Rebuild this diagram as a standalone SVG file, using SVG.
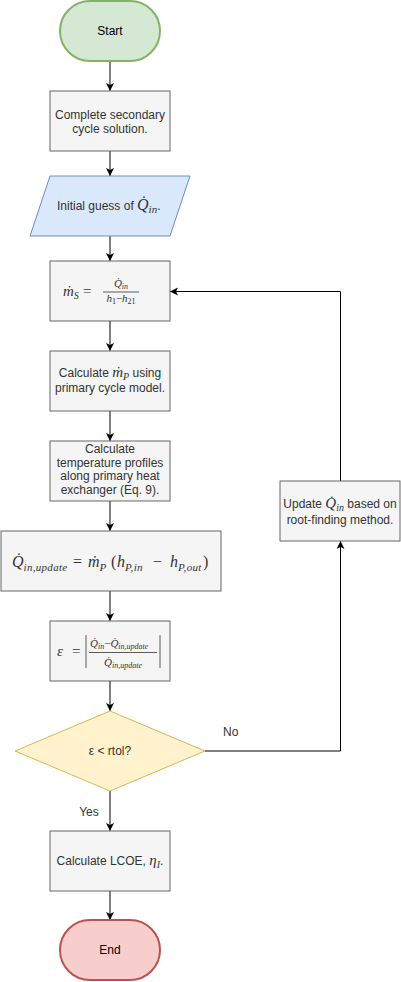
<svg xmlns="http://www.w3.org/2000/svg" width="401" height="982" viewBox="0 0 401 982">
<defs>
<marker id="arr" markerWidth="10" markerHeight="10" refX="8" refY="4" orient="auto" markerUnits="userSpaceOnUse">
<path d="M0,0 L8,4 L0,8 L2,4 Z" fill="#000"/>
</marker>
<style>
.box{fill:#f5f5f5;stroke:#666666;stroke-width:1}
.t{font-family:"Liberation Sans",Arial,sans-serif;font-size:12px;fill:#333333}
.tc{text-anchor:middle}
.m{font-family:"Liberation Serif","Times New Roman",serif;font-style:italic;fill:#333333}
.u{font-family:"Liberation Serif","Times New Roman",serif;font-style:normal;fill:#333333}
.ls{letter-spacing:0.3px}
.e{fill:none;stroke:#000;stroke-width:1}
</style>
</defs>
<rect width="401" height="982" fill="#ffffff"/>

<g id="connectors">
<line class="e" x1="110" y1="61" x2="110" y2="91" marker-end="url(#arr)"/>
<line class="e" x1="110" y1="151" x2="110" y2="176" marker-end="url(#arr)"/>
<line class="e" x1="110" y1="236" x2="110" y2="261" marker-end="url(#arr)"/>
<line class="e" x1="110" y1="321" x2="110" y2="351" marker-end="url(#arr)"/>
<line class="e" x1="110" y1="411" x2="110" y2="441" marker-end="url(#arr)"/>
<line class="e" x1="110" y1="501" x2="110" y2="531" marker-end="url(#arr)"/>
<line class="e" x1="110" y1="591" x2="110" y2="621" marker-end="url(#arr)"/>
<line class="e" x1="110" y1="681" x2="110" y2="711" marker-end="url(#arr)"/>
<line class="e" x1="110" y1="791" x2="110" y2="831" marker-end="url(#arr)"/>
<line class="e" x1="110" y1="891" x2="110" y2="920" marker-end="url(#arr)"/>
<polyline class="e" points="205,751 340.5,751 340.5,541" marker-end="url(#arr)"/>
<polyline class="e" points="340.5,481 340.5,291.5 170,291.5" marker-end="url(#arr)"/>
<text class="t" x="223" y="736">No</text>
<text class="t tc" x="89" y="816">Yes</text>
</g>

<g id="start">
<rect x="60" y="1" width="100" height="60" rx="30" ry="30" fill="#d5e8d4" stroke="#82b366" stroke-width="2"/>
<text class="t tc" x="110" y="35" style="fill:#000">Start</text>
</g>

<g id="secondary">
<rect class="box" x="50" y="91" width="120" height="60"/>
<text class="t tc" x="110" y="119">Complete secondary</text>
<text class="t tc" x="110" y="133">cycle solution.</text>
</g>

<g id="guess">
<polygon points="50,176 190,176 170,236 30,236" fill="#dae8fc" stroke="#6c8ebf" stroke-width="1"/>
<text x="57" y="210"><tspan class="t">Initial guess of </tspan><tspan class="m" font-size="16">Q̇</tspan><tspan class="m" font-size="11" dy="3">in</tspan><tspan class="t" dy="-3">.</tspan></text>
</g>

<g id="ms">
<rect class="box" x="50" y="261" width="120" height="60"/>
<text x="63" y="296"><tspan class="m" font-size="15">ṁ</tspan><tspan class="m" font-size="10" dy="3">S</tspan><tspan class="u" font-size="15" x="83" dy="-3">=</tspan></text>
<text x="121" y="287" text-anchor="middle"><tspan class="m" font-size="11">Q̇</tspan><tspan class="m" font-size="8" dy="2">in</tspan></text>
<line x1="103" y1="292" x2="139" y2="292" stroke="#333" stroke-width="0.8"/>
<text x="121" y="302" text-anchor="middle"><tspan class="m" font-size="11">h</tspan><tspan class="u" font-size="8" dy="2">1</tspan><tspan class="u" font-size="11" dy="-2">−</tspan><tspan class="m" font-size="11">h</tspan><tspan class="u" font-size="8" dy="2">21</tspan></text>
</g>

<g id="primary">
<rect class="box" x="50" y="351" width="120" height="60"/>
<text x="110" y="377" text-anchor="middle"><tspan class="t">Calculate </tspan><tspan class="m" font-size="15">ṁ</tspan><tspan class="m" font-size="10" dy="3">P</tspan><tspan class="t" dy="-3"> using</tspan></text>
<text class="t tc" x="110" y="392">primary cycle model.</text>
</g>

<g id="temp">
<rect class="box" x="50" y="441" width="120" height="60"/>
<text class="t tc" x="110" y="453">Calculate</text>
<text class="t tc" x="110" y="467">temperature profiles</text>
<text class="t tc" x="110" y="480">along primary heat</text>
<text class="t tc" x="110" y="494">exchanger (Eq. 9).</text>
</g>

<g id="qupdate">
<rect class="box" x="1" y="531" width="220" height="60"/>
<text y="567"><tspan class="m" font-size="16" x="12">Q̇</tspan><tspan class="m ls" font-size="11" dy="4">in,update</tspan><tspan class="u" font-size="16" x="73" dy="-4">=</tspan><tspan class="m" font-size="16" x="88">ṁ</tspan><tspan class="m" font-size="11" dy="4">P</tspan><tspan class="u" font-size="16" x="111" dy="-4">(</tspan><tspan class="m" font-size="16" x="117">h</tspan><tspan class="m ls" font-size="11" dy="4">P,in</tspan><tspan class="u" font-size="16" x="153" dy="-4">−</tspan><tspan class="m" font-size="16" x="170">h</tspan><tspan class="m ls" font-size="11" dy="4">P,out</tspan><tspan class="u" font-size="16" x="203" dy="-4">)</tspan></text>
</g>

<g id="eps">
<rect class="box" x="50" y="621" width="120" height="60"/>
<text y="656"><tspan class="m" font-size="15" x="57">ε</tspan><tspan class="u" font-size="15" x="72">=</tspan></text>
<line x1="86" y1="635" x2="86" y2="668" stroke="#333" stroke-width="0.8"/>
<line x1="160" y1="635" x2="160" y2="668" stroke="#333" stroke-width="0.8"/>
<text y="647"><tspan class="m" font-size="11" x="90">Q̇</tspan><tspan class="m" font-size="8" dy="2">in</tspan><tspan class="u" font-size="11" dy="-2">−</tspan><tspan class="m" font-size="11">Q̇</tspan><tspan class="m" font-size="8" dy="2">in,update</tspan></text>
<line x1="89" y1="652.5" x2="157" y2="652.5" stroke="#333" stroke-width="0.8"/>
<text y="666"><tspan class="m" font-size="11" x="104">Q̇</tspan><tspan class="m" font-size="8" dy="2">in,update</tspan></text>
</g>

<g id="check">
<polygon points="15,751 110,711 205,751 110,791" fill="#fff2cc" stroke="#d6b656" stroke-width="1"/>
<text class="t tc" x="110" y="755">ε &lt; rtol?</text>
</g>

<g id="update">
<rect class="box" x="280" y="481" width="120" height="60"/>
<text x="340" y="508" text-anchor="middle"><tspan class="t">Update </tspan><tspan class="m" font-size="15">Q̇</tspan><tspan class="m" font-size="10" dy="3">in</tspan><tspan class="t" dy="-3"> based on</tspan></text>
<text class="t tc" x="340" y="524">root-finding method.</text>
</g>

<g id="lcoe">
<rect class="box" x="50" y="831" width="120" height="60"/>
<text x="110" y="865" text-anchor="middle"><tspan class="t">Calculate LCOE, </tspan><tspan class="m" font-size="15">η</tspan><tspan class="m" font-size="10" dy="3">I</tspan><tspan class="t" dy="-3">.</tspan></text>
</g>

<g id="end">
<rect x="60" y="920" width="100" height="60" rx="30" ry="30" fill="#f8cecc" stroke="#b85450" stroke-width="2"/>
<text class="t tc" x="110" y="954" style="fill:#000">End</text>
</g>
</svg>
